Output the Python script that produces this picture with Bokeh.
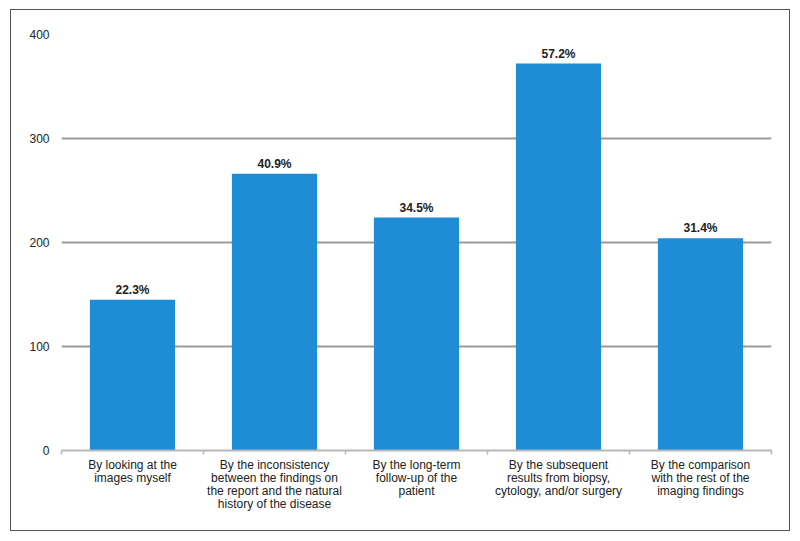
from bokeh.plotting import figure
from bokeh.models import (Range1d, LinearAxis, FixedTicker, ColumnDataSource, LabelSet)
from bokeh.core.properties import value
from bokeh.embed import file_html
from bokeh.resources import INLINE

categories = [
    "By looking at the\nimages myself",
    "By the inconsistency\nbetween the findings on\nthe report and the natural\nhistory of the disease",
    "By the long-term\nfollow-up of the\npatient",
    "By the subsequent\nresults from biopsy,\ncytology, and/or surgery",
    "By the comparison\nwith the rest of the\nimaging findings",
]
counts = [145, 266, 224, 372, 204]
percents = [22.3, 40.9, 34.5, 57.2, 31.4]
y_ticks = [0, 100, 200, 300, 400]

FONT = "Liberation Sans"
BAR = "#1F8CD6"

n_cat = len(categories)
centers = [i + 0.5 for i in range(n_cat)]
edges = list(range(n_cat + 1))

src = ColumnDataSource(dict(
    x=centers,
    n=counts,
    lab=[f"{v:.1f}%" for v in percents],
))

p = figure(x_range=Range1d(0, n_cat), y_range=Range1d(0, 400),
           width=780, height=522, output_backend="svg", toolbar_location=None,
           x_axis_location=None, min_border_left=50, min_border_right=20,
           min_border_top=24, min_border_bottom=82)
p.styles = {"border": "1.5px solid #555", "margin-top": "9px", "margin-left": "10px"}
p.outline_line_color = None

p.vbar(x="x", top="n", width=0.6, source=src, color=BAR, line_color=None)

p.add_layout(LabelSet(x="x", y="n", text="lab", source=src, text_align="center",
                      text_baseline="bottom", y_offset=3, text_font=value(FONT),
                      text_font_size="12px", text_font_style="bold", text_color="#222222"))

# y axis
p.yaxis.ticker = FixedTicker(ticks=y_ticks)
p.yaxis.axis_line_color = None
p.yaxis.major_tick_line_color = None
p.yaxis.minor_tick_line_color = None
p.yaxis.major_label_standoff = 6
p.yaxis.major_label_text_font = FONT
p.yaxis.major_label_text_font_size = "12px"
p.yaxis.major_label_text_color = "#222222"

p.xgrid.grid_line_color = None
p.ygrid.ticker = FixedTicker(ticks=y_ticks[1:])
p.ygrid.grid_line_color = "#9a9a9a"
p.ygrid.grid_line_width = 2

# category axis: labels at centres, small tick marks at category boundaries
cat_axis = LinearAxis(ticker=FixedTicker(ticks=centers, minor_ticks=edges),
                      major_label_overrides={c: lab for c, lab in zip(centers, categories)},
                      axis_line_color="#b8b8b8", axis_line_width=2,
                      major_tick_line_color=None,
                      minor_tick_line_color="#b8b8b8", minor_tick_line_width=1.5,
                      minor_tick_in=0, minor_tick_out=4,
                      major_tick_in=0, major_tick_out=0,
                      major_label_standoff=3,
                      major_label_text_font=FONT, major_label_text_font_size="12px",
                      major_label_text_color="#222222", major_label_text_align="center",
                      major_label_text_line_height=0.95,
                      major_label_orientation="horizontal")
p.add_layout(cat_axis, "below")

open("out.html", "w").write(file_html(p, INLINE))
